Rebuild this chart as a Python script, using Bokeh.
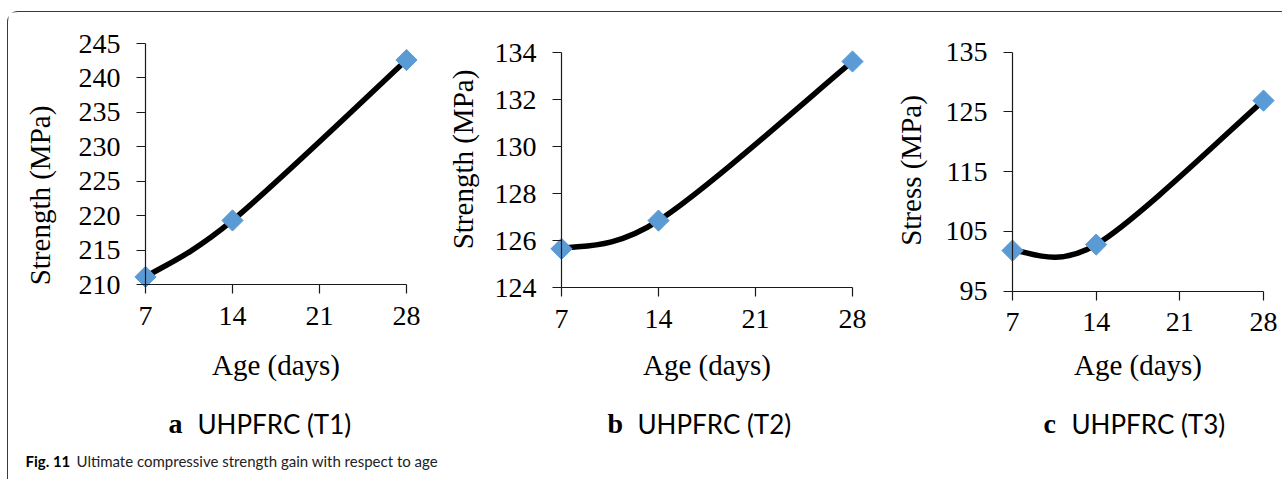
import math
from bokeh.plotting import figure
from bokeh.layouts import row, column
from bokeh.models import FixedTicker, Label
from bokeh.embed import file_html
from bokeh.resources import INLINE

age = [7, 14, 28]
t1 = [211.1, 219.3, 242.6]
t2 = [125.66, 126.86, 133.63]
t3 = [101.8, 102.8, 126.9]

x_ticks = [7, 14, 21, 28]
t1_ticks = [210, 215, 220, 225, 230, 235, 240, 245]
t2_ticks = [124, 126, 128, 130, 132, 134]
t3_ticks = [95, 105, 115, 125, 135]

subtitles = ["UHPFRC (T1)", "UHPFRC (T2)", "UHPFRC (T3)"]
caption_bold = "Fig. 11"
caption_text = "Ultimate compressive strength gain with respect to age"

SERIF = "Liberation Serif"
SANS = "Lato"

PAGE_H = 479
FIG_TOP = 12          # page y where the figures begin (after margin + border)
ROW_BOTTOM = 446      # page y where the chart row ends and the caption strip starts
FIG_H = ROW_BOTTOM - FIG_TOP


def smooth_segments(xs, ys):
    # Catmull-Rom style control points (like a spreadsheet "smoothed line")
    n = len(xs)
    out = dict(x0=[], y0=[], x1=[], y1=[], cx0=[], cy0=[], cx1=[], cy1=[])
    for i in range(n - 1):
        p0 = (xs[max(i - 1, 0)], ys[max(i - 1, 0)])
        p1 = (xs[i], ys[i])
        p2 = (xs[i + 1], ys[i + 1])
        p3 = (xs[min(i + 2, n - 1)], ys[min(i + 2, n - 1)])
        out["x0"].append(p1[0]); out["y0"].append(p1[1])
        out["x1"].append(p2[0]); out["y1"].append(p2[1])
        out["cx0"].append(p1[0] + (p2[0] - p0[0]) / 6)
        out["cy0"].append(p1[1] + (p2[1] - p0[1]) / 6)
        out["cx1"].append(p2[0] - (p3[0] - p1[0]) / 6)
        out["cy1"].append(p2[1] - (p3[1] - p1[1]) / 6)
    return out


def panel(ox, w, ax_left, ax_right, ax_bottom, ax_top, lo, hi, yticks, ylabel, ys,
          letter, sub, letter_x, sub_x, ytitle_x, ytitle_y, xlab_standoff,
          sub_y=423):
    # page-pixel geometry of the axes -> ranges so the frame fills the figure
    xs = (28 - 7) / (ax_right - ax_left)
    x_range = (7 - (ax_left - ox) * xs, 28 + (ox + w - ax_right) * xs)
    ysc = (hi - lo) / (ax_bottom - ax_top)
    y_range = (lo - (ROW_BOTTOM - ax_bottom) * ysc, hi + (ax_top - FIG_TOP) * ysc)

    p = figure(width=w, height=FIG_H, x_range=x_range, y_range=y_range,
               output_backend="svg", toolbar_location=None, title=None,
               min_border=0)
    p.grid.visible = False
    p.outline_line_color = None
    p.background_fill_color = "white"
    p.border_fill_color = "white"
    for ax in (p.xaxis, p.yaxis):
        ax.axis_line_color = "#1a1a1a"
        ax.axis_line_width = 1.2
        ax.major_tick_line_color = "#1a1a1a"
        ax.major_tick_line_width = 1.2
        ax.major_tick_in = 0
        ax.major_tick_out = 9
        ax.minor_tick_line_color = None
        ax.major_label_text_font = SERIF
        ax.major_label_text_font_size = "28px"
        ax.major_label_text_color = "black"
        ax.axis_label_text_font = SERIF
        ax.axis_label_text_font_size = "29px"
        ax.axis_label_text_font_style = "normal"
        ax.axis_label_text_color = "black"
    p.xaxis.fixed_location = lo
    p.yaxis.fixed_location = 7
    p.xaxis.bounds = (7, 28)
    p.yaxis.bounds = (lo, hi)
    p.xaxis.ticker = FixedTicker(ticks=x_ticks)
    p.yaxis.ticker = FixedTicker(ticks=yticks)
    p.xaxis.major_label_standoff = 13
    p.yaxis.major_label_standoff = 16
    p.xaxis.axis_label = "Age (days)"
    p.xaxis.axis_label_standoff = xlab_standoff

    # y-axis title placed where the reference shows it
    p.add_layout(Label(x=ytitle_x - ox, y=ROW_BOTTOM - ytitle_y,
                       x_units="screen", y_units="screen", text=ylabel,
                       angle=math.pi / 2, text_align="center", text_baseline="middle",
                       text_font=SERIF, text_font_size="29px", text_color="black"))

    seg = smooth_segments(age, ys)
    p.bezier(x0=seg["x0"], y0=seg["y0"], x1=seg["x1"], y1=seg["y1"],
             cx0=seg["cx0"], cy0=seg["cy0"], cx1=seg["cx1"], cy1=seg["cy1"],
             line_color="black", line_width=5.5, line_cap="round")
    p.scatter(age, ys, marker="square", angle=0.785398, size=15,
              fill_color="#5B9BD5", line_color="#5B9BD5")

    p.add_layout(Label(x=letter_x - ox, y=ROW_BOTTOM - sub_y, x_units="screen", y_units="screen",
                       text=letter, text_font=SERIF, text_font_size="28px",
                       text_font_style="bold", text_baseline="middle",
                       text_color="black"))
    p.add_layout(Label(x=sub_x - ox, y=ROW_BOTTOM - sub_y, x_units="screen", y_units="screen",
                       text=sub, text_font=SANS, text_font_size="26px",
                       text_baseline="middle", text_color="black"))
    return p


pa = panel(8, 422, 145, 406, 284, 43, 210, 245, t1_ticks, "Strength (MPa)", t1,
           "a", subtitles[0], 168, 197, 39, 195, 21)
pb = panel(430, 440, 561, 852, 287.3, 52.3, 124, 134, t2_ticks, "Strength (MPa)", t2,
           "b", subtitles[1], 607, 637, 462, 159, 18)
pc = panel(870, 412, 1012, 1263, 290.7, 51.7, 95, 135, t3_ticks, "Stress (MPa)", t3,
           "c", subtitles[2], 1043, 1071, 910, 170, 14)

# caption strip across the bottom
cap_w = 1282 - 8
cap_h = PAGE_H - ROW_BOTTOM
pcap = figure(width=cap_w, height=cap_h, x_range=(0, cap_w), y_range=(0, cap_h),
              output_backend="svg", toolbar_location=None, title=None,
              min_border=0, x_axis_type=None, y_axis_type=None)
pcap.grid.visible = False
pcap.outline_line_color = None
pcap.add_layout(Label(x=25 - 8, y=PAGE_H - 460, x_units="screen", y_units="screen",
                      text=caption_bold, text_font=SANS, text_font_size="15px",
                      text_font_style="bold", text_baseline="middle",
                      text_color="black"))
pcap.add_layout(Label(x=76 - 8, y=PAGE_H - 460, x_units="screen", y_units="screen",
                      text=caption_text, text_font=SANS, text_font_size="15px",
                      text_baseline="middle", text_color="#222222"))

layout = column(row(pa, pb, pc), pcap, margin=(11, 0, 0, 7),
                styles={"border-top": "1px solid #3a3a3a",
                        "border-left": "1px solid #3a3a3a",
                        "border-top-left-radius": "11px"})

open("out.html", "w").write(file_html(layout, INLINE))
